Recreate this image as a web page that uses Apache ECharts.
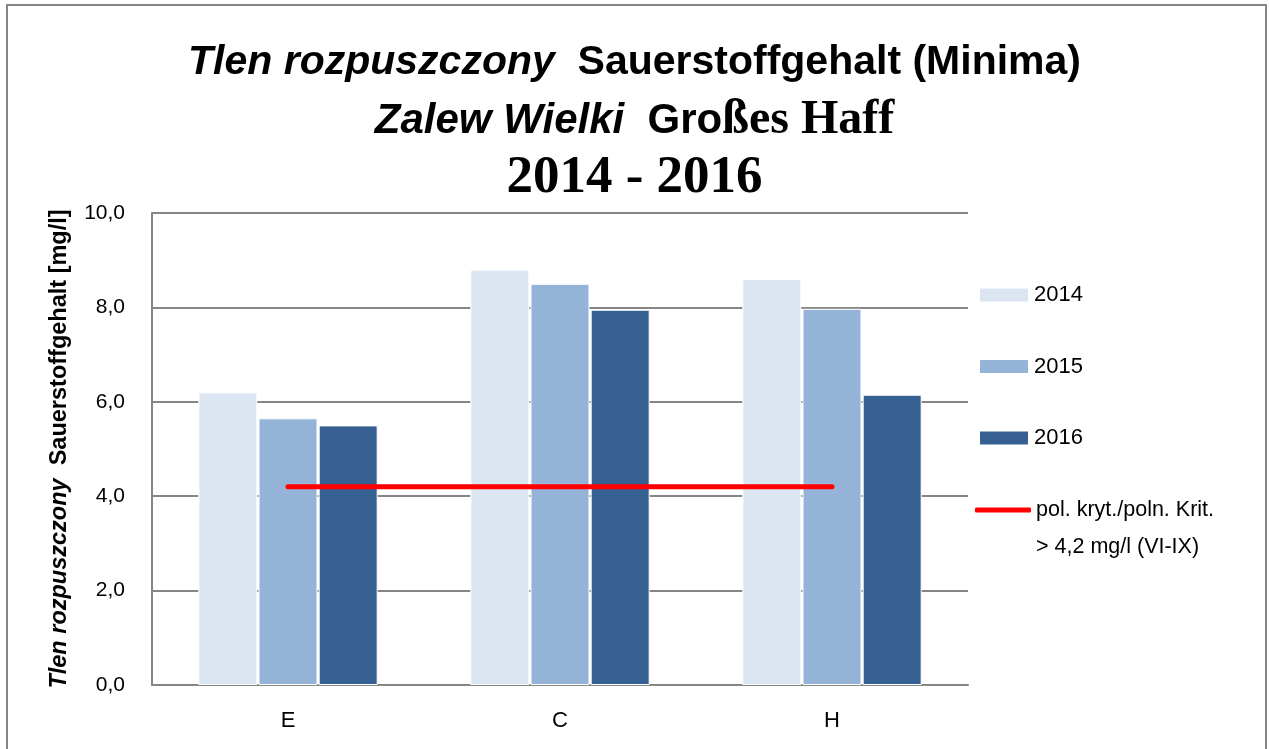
<!DOCTYPE html>
<html>
<head>
<meta charset="utf-8">
<script src="https://cdn.jsdelivr.net/npm/echarts@6/dist/echarts.min.js"></script>
<style>
    html, body { margin: 0; padding: 0; background: #fff; }
    #chart { width: 1269px; height: 749px; }
</style>
</head>
<body>
<div id="chart"></div>
<script>
// stations and yearly minima
let stations = ['E', 'C', 'H']
let years = ['2014', '2015', '2016']
let v2014 = [6.2, 8.8, 8.6]
let v2015 = [5.65, 8.5, 7.97]
let v2016 = [5.5, 7.95, 6.15]
let critName = 'pol. kryt./poln. Krit.'
let critNote = '> 4,2 mg/l (VI-IX)'
let critValues = [4.2, 4.2, 4.2]
let yTicks = ['0,0', '2,0', '4,0', '6,0', '8,0', '10,0']

let colors = ['#dce6f2', '#95b3d7', '#376092']
let sans = '"Liberation Sans", Arial, sans-serif'
let serif = '"Liberation Serif", "Times New Roman", serif'

let myChart = echarts.init(document.getElementById('chart'))

let barSeries = [v2014, v2015, v2016].map(function (d, i) {
    return {
        name: years[i],
        type: 'bar',
        data: d,
        barWidth: 59,
        barGap: '2%',
        itemStyle: { color: colors[i], borderColor: '#fff', borderWidth: 1 }
    }
})

let option = {
    animation: false,
    textStyle: { fontFamily: sans },
    title: [
        {
            text: '{i|Tlen rozpuszczony}{b|  Sauerstoffgehalt (Minima)}',
            left: 'center',
            top: 37,
            textStyle: {
                rich: {
                    i: { fontFamily: sans, fontSize: 41, fontWeight: 'bold', fontStyle: 'italic', color: '#000' },
                    b: { fontFamily: sans, fontSize: 41, fontWeight: 'bold', color: '#000' }
                }
            }
        },
        {
            text: '{i|Zalew Wielki}{b|  Gro}{t|ßes Haff}',
            left: 'center',
            top: 92,
            textStyle: {
                rich: {
                    i: { fontFamily: sans, fontSize: 42, fontWeight: 'bold', fontStyle: 'italic', color: '#000' },
                    b: { fontFamily: sans, fontSize: 42, fontWeight: 'bold', color: '#000' },
                    t: { fontFamily: serif, fontSize: 48, fontWeight: 'bold', color: '#000' }
                }
            }
        },
        {
            text: '2014 - 2016',
            left: 'center',
            top: 147,
            textStyle: { fontFamily: serif, fontSize: 53, fontWeight: 'bold', color: '#000' }
        }
    ],
    legend: [
        {
            data: years,
            orient: 'vertical',
            left: 978,
            top: 283,
            padding: 0,
            itemWidth: 50,
            itemHeight: 15,
            itemGap: 47.5,
            icon: 'rect',
            textStyle: { fontSize: 22, color: '#000', lineHeight: 24 }
        },
        {
            data: [{ name: critName, icon: 'roundRect' }],
            orient: 'vertical',
            left: 975,
            top: 498,
            padding: 0,
            itemWidth: 56,
            itemHeight: 5,
            textStyle: { fontSize: 21.5, color: '#000', lineHeight: 24 }
        }
    ],
    grid: { left: 152, right: 301, top: 213, bottom: 64 },
    xAxis: {
        type: 'category',
        data: stations,
        axisLine: { lineStyle: { color: '#868686', width: 2 } },
        axisTick: { show: false },
        axisLabel: { fontSize: 22, color: '#000', margin: 25 }
    },
    yAxis: {
        type: 'value',
        min: 0,
        max: 10,
        interval: 2,
        name: '{i|Tlen rozpuszczony}{b|  Sauerstoffgehalt [mg/l]}',
        nameLocation: 'middle',
        nameGap: 80,
        nameTextStyle: {
            rich: {
                i: { fontSize: 23.5, fontWeight: 'bold', fontStyle: 'italic', color: '#000' },
                b: { fontSize: 23.5, fontWeight: 'bold', color: '#000' }
            }
        },
        axisLine: { show: true, lineStyle: { color: '#868686', width: 2 } },
        axisTick: { show: false },
        splitLine: { lineStyle: { color: '#868686', width: 2 } },
        axisLabel: {
            fontSize: 21,
            color: '#000',
            margin: 27,
            formatter: function (v) { return yTicks[Math.round(v / 2)] }
        }
    },
    series: barSeries.concat([
        {
            name: critName,
            type: 'line',
            data: critValues,
            symbol: 'none',
            lineStyle: { color: '#ff0000', width: 5, cap: 'round' },
            itemStyle: { color: '#ff0000' },
            z: 5
        }
    ]),
    graphic: [
        {
            type: 'text',
            left: 1036,
            top: 536,
            style: { text: critNote, font: '21.5px ' + sans, fill: '#000' }
        },
        {
            type: 'rect',
            shape: { x: 7, y: 5, width: 1259, height: 760 },
            style: { fill: 'none', stroke: '#868686', lineWidth: 2 },
            silent: true
        }
    ]
}

myChart.setOption(option)
</script>
</body>
</html>
